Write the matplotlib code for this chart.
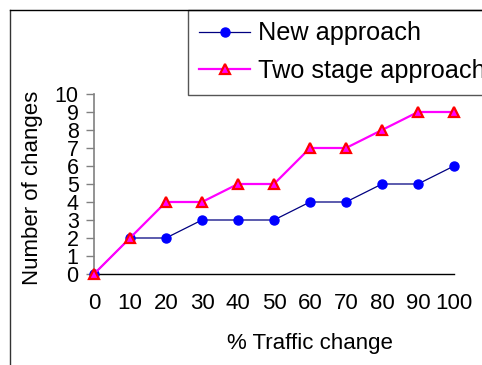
import matplotlib

matplotlib.use("Agg")
import matplotlib.pyplot as plt
from matplotlib.lines import Line2D

plt.rcParams["font.family"] = ["Liberation Sans", "DejaVu Sans"]

traffic_change = [0, 10, 20, 30, 40, 50, 60, 70, 80, 90, 100]
new_approach = [0, 2, 2, 3, 3, 3, 4, 4, 5, 5, 6]
two_stage = [0, 2, 4, 4, 5, 5, 7, 7, 8, 9, 9]

W, H = 482, 365
fig = plt.figure(figsize=(W / 100, H / 100), dpi=100)

# outer chart border (clipped on right and bottom like the source)
fig.add_artist(Line2D([10 / W, 10 / W], [0, 1 - 10 / H], color="#333333", lw=1.0))
fig.add_artist(Line2D([10 / W, 1], [1 - 10 / H, 1 - 10 / H], color="#000000", lw=1.0))

ax = fig.add_axes([94 / W, 1 - 274 / H, (454 - 94) / W, (274 - 94) / H])
ax.plot(traffic_change, new_approach, color="#000080", lw=0.9, marker="o",
        markersize=6.5, markerfacecolor="#0000ff", markeredgecolor="#0000ff",
        label="New approach", clip_on=False, zorder=3)
ax.plot(traffic_change, two_stage, color="#ff00ff", lw=1.6, marker="^",
        markersize=7, markerfacecolor="#ff00ff", markeredgecolor="#ff0000",
        markeredgewidth=1.6, label="Two stage approach", clip_on=False, zorder=4)

ax.set_xlim(0, 100)
ax.set_ylim(0, 10)
ax.set_xticks(traffic_change)
ax.set_yticks(range(0, 11))
ax.set_xticks([100], minor=True)
ax.tick_params(axis="x", which="major", length=0, pad=14, labelsize=16)
ax.tick_params(axis="x", which="minor", length=6, width=1, color="black", direction="out")
ax.tick_params(axis="y", length=6, width=1, color="#808080", direction="out", pad=5, labelsize=15.5)
for side in ("top", "right"):
    ax.spines[side].set_visible(False)
ax.spines["left"].set_color("#808080")
ax.spines["left"].set_linewidth(1.2)
ax.spines["bottom"].set_color("black")
ax.spines["bottom"].set_linewidth(1.0)

fig.text(33 / W, 1 - 188 / H, "Number of changes", rotation=90,
         ha="center", va="center", fontsize=16)
fig.text(310 / W, 1 - 344 / H, "% Traffic change", ha="center", va="center", fontsize=16)

leg = ax.legend(loc="upper left", bbox_to_anchor=(188 / W, 1 - 10 / H),
                bbox_transform=fig.transFigure, borderaxespad=0, fontsize=18.2,
                fancybox=False, edgecolor="#555555", framealpha=1,
                handlelength=2.0, handletextpad=0.3, borderpad=0.45, labelspacing=0.55)
leg.get_frame().set_linewidth(1.0)

fig.savefig("out.png", dpi=100)
